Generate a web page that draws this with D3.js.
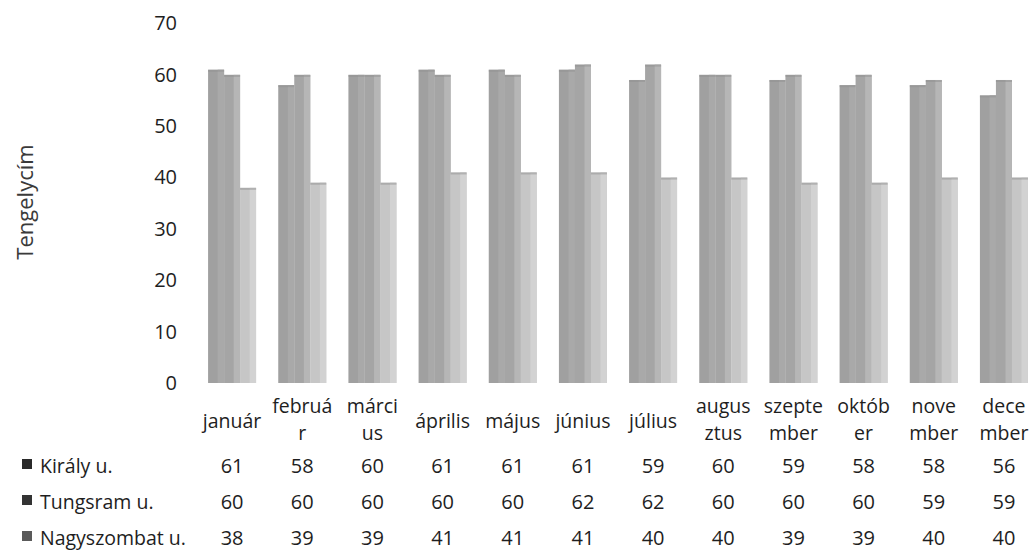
<!DOCTYPE html>
<html><head><meta charset="utf-8">
<script src="https://cdn.jsdelivr.net/npm/d3@7/dist/d3.min.js"></script>
<style>body{margin:0;background:#fff}svg{display:block}text{font-family:"Open Sans",sans-serif;fill:#1e1e1e}</style>
</head><body><svg id="c" width="1032" height="550"></svg>
<script>
const months = [["január"],["februá","r"],["márci","us"],["április"],["május"],["június"],["július"],["augus","ztus"],["szepte","mber"],["októb","er"],["nove","mber"],["dece","mber"]];
const seriesNames = ["Király u.","Tungsram u.","Nagyszombat u."];
const kiraly = [61,58,60,61,61,61,59,60,59,58,58,56];
const tungsram = [60,60,60,60,60,62,62,60,60,60,59,59];
const nagyszombat = [38,39,39,41,41,41,40,40,39,39,40,40];
const yTicks = [0,10,20,30,40,50,60,70];
const series = [kiraly, tungsram, nagyszombat];
const colors = ["#a0a0a0","#a5a5a5","#c6c6c6"];
const sideColors = ["#a9a9a9","#b6b6b6","#d2d2d2"];
const markerColors = ["#2a2a2a","#333","#5a5a5a"];

const svg = d3.select("#c");
const x = d3.scaleBand().domain(d3.range(12)).range([197, 1039]).paddingInner(0).paddingOuter(0);
const y = d3.scaleLinear().domain([0,70]).range([383, 23.5]);
const inner = d3.scaleBand().domain([0,1,2]).range([0,48]);

const ya = svg.append("g").attr("transform","translate(177,0)")
  .call(d3.axisLeft(y).tickValues(yTicks).tickSize(0).tickPadding(0));
ya.select(".domain").remove();
ya.selectAll("text").style("font-family",'"Open Sans",sans-serif').style("font-size","20px").attr("fill","#1e1e1e");

svg.append("text").attr("transform","translate(24,202) rotate(-90)").attr("text-anchor","middle")
  .attr("dominant-baseline","central").style("font-size","22px").style("fill","#3a3a3a").text("Tengelycím");

series.forEach((vals,s)=>{
  const g = svg.append("g");
  vals.forEach((v,i)=>{
    const x0 = x(i) + (x.bandwidth()-48)/2 + inner(s);
    const w = inner.bandwidth();
    g.append("rect").attr("x",x0).attr("y",y(v)).attr("width",w).attr("height",y(0)-y(v)).attr("fill",colors[s]);
    g.append("rect").attr("x",x0+w*0.6).attr("y",y(v)).attr("width",w*0.4).attr("height",y(0)-y(v)).attr("fill",sideColors[s]);
    g.append("rect").attr("x",x0).attr("y",y(v)).attr("width",w).attr("height",2).attr("fill","#8f8f8f").attr("opacity",0.5);
  });
});

months.forEach((m,i)=>{
  const cx = x(i)+x.bandwidth()/2;
  const t = svg.append("text").attr("text-anchor","middle").style("font-size","19.5px");
  if(m.length===1){
    t.append("tspan").attr("x",cx).attr("y",428).text(m[0]);
  } else {
    t.append("tspan").attr("x",cx).attr("y",413).text(m[0]);
    t.append("tspan").attr("x",cx).attr("y",440).text(m[1]);
  }
});

const rowY = [465,501,537];
series.forEach((vals,s)=>{
  svg.append("rect").attr("x",22).attr("y",rowY[s]-6).attr("width",10).attr("height",10).attr("fill",markerColors[s]);
  svg.append("text").attr("x",40).attr("y",rowY[s]).attr("dominant-baseline","central").style("font-size","19.5px").text(seriesNames[s]);
  vals.forEach((v,i)=>{
    svg.append("text").attr("x",x(i)+x.bandwidth()/2).attr("y",rowY[s]).attr("text-anchor","middle")
      .attr("dominant-baseline","central").style("font-size","20px").text(v);
  });
});
</script></body></html>
